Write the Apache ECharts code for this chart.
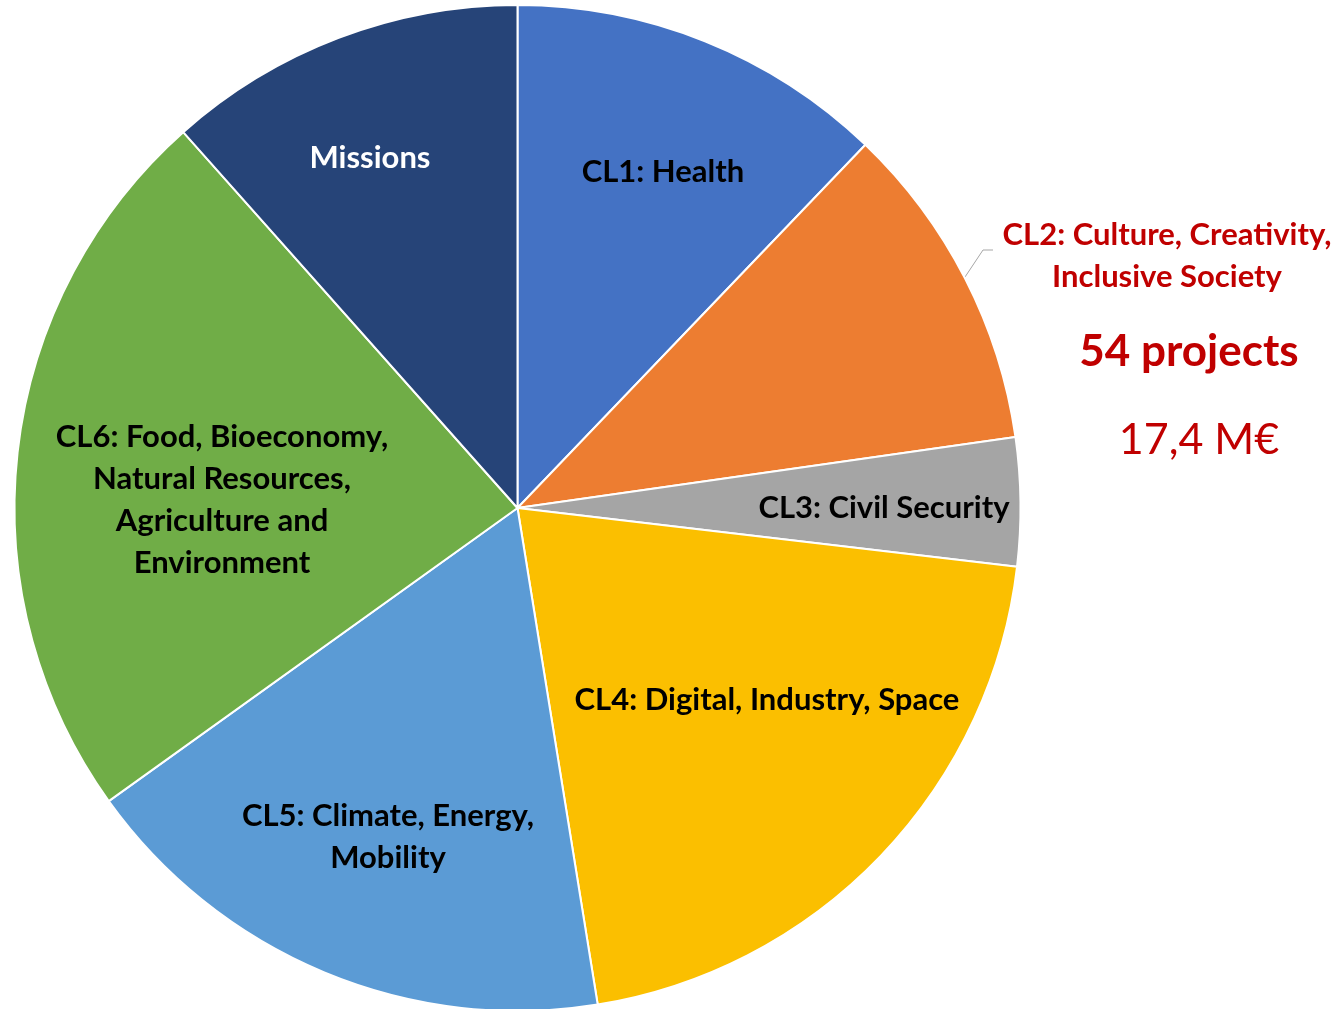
<!DOCTYPE html>
<html>
<head>
<meta charset="utf-8">
<script src="https://cdn.jsdelivr.net/npm/echarts@6/dist/echarts.min.js"></script>
<style>
html,body{margin:0;padding:0;background:#fff;}
#chart{width:1332px;height:1009px;}
</style>
</head>
<body>
<div id="chart"></div>
<script>
const categories = [
  "CL1: Health",
  "CL2: Culture, Creativity,\nInclusive Society",
  "CL3: Civil Security",
  "CL4: Digital, Industry, Space",
  "CL5: Climate, Energy,\nMobility",
  "CL6: Food, Bioeconomy,\nNatural Resources,\nAgriculture and\nEnvironment",
  "Missions"
];
const values = [62, 54, 21, 105, 90, 119, 59];
const highlightLines = ["54 projects", "17,4 M€"];

const colors = ["#4472C4", "#ED7D31", "#A5A5A5", "#FBBF00", "#5B9BD5", "#70AD47", "#264478"];
const labelPos = [
  [663, 172], [1167, 256], [884, 508], [767, 700], [388, 837], [222, 500], [370, 158]
];
const FONT = "Lato, 'Open Sans', sans-serif";

const chart = echarts.init(document.getElementById('chart'), null, {renderer: 'canvas'});
const data = categories.map((c, i) => {
  const d = {
    name: c,
    value: values[i],
    itemStyle: {color: colors[i]},
    label: {color: i === 6 ? '#ffffff' : '#000000'}
  };
  if (i === 1) {
    d.label = {position: 'outside', color: '#C00000'};
    d.labelLine = {show: true, lineStyle: {color: '#A6A6A6', width: 1}};
  }
  return d;
});

chart.setOption({
  animation: false,
  series: [{
    type: 'pie',
    center: [517.5, 508],
    radius: 503,
    startAngle: 90,
    clockwise: true,
    avoidLabelOverlap: false,
    itemStyle: {borderColor: '#ffffff', borderWidth: 2},
    label: {
      show: true,
      position: 'inside',
      formatter: '{b}',
      fontFamily: FONT,
      fontWeight: 'bold',
      fontSize: 31,
      lineHeight: 42,
      align: 'center'
    },
    labelLine: {show: false},
    labelLayout: function (p) {
      const i = p.dataIndex;
      const r = {x: labelPos[i][0], y: labelPos[i][1], align: 'center', verticalAlign: 'middle'};
      if (i === 1) r.labelLinePoints = [[965, 277], [983, 250], [993, 250]];
      return r;
    },
    data: data
  }],
  graphic: [
    {type: 'text', x: 1189, y: 352, style: {text: highlightLines[0], fill: '#C00000', font: "bold 44px " + FONT, textAlign: 'center', textVerticalAlign: 'middle'}},
    {type: 'text', x: 1199, y: 440, style: {text: highlightLines[1], fill: '#C00000', font: "43px " + FONT, textAlign: 'center', textVerticalAlign: 'middle'}}
  ]
});
</script>
</body>
</html>
